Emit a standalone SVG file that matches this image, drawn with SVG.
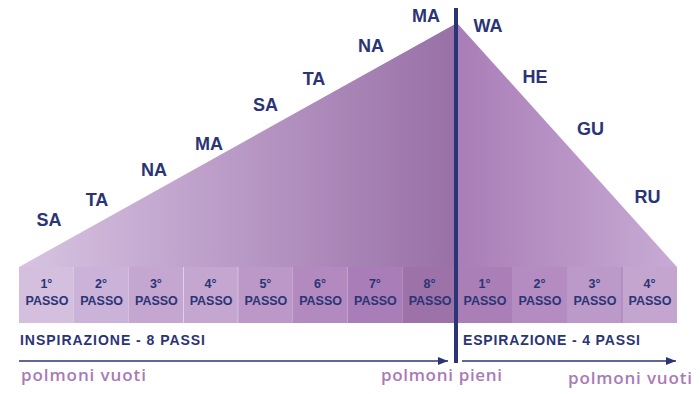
<svg xmlns="http://www.w3.org/2000/svg" width="700" height="394" viewBox="0 0 700 394">
<defs>
<linearGradient id="gL" x1="19" y1="0" x2="457" y2="0" gradientUnits="userSpaceOnUse">
<stop offset="0" stop-color="#d7c4e1"/><stop offset="0.5" stop-color="#b999c6"/><stop offset="1" stop-color="#9870a6"/>
</linearGradient>
<linearGradient id="gR" x1="457" y1="0" x2="677" y2="0" gradientUnits="userSpaceOnUse">
<stop offset="0" stop-color="#a97db7"/><stop offset="1" stop-color="#c8abd4"/>
</linearGradient>
<marker id="arr" viewBox="0 0 10 8" refX="10" refY="4" markerWidth="10" markerHeight="8" markerUnits="userSpaceOnUse" orient="auto">
<path d="M0,0 L10,4 L0,8 z" fill="#2b3474"/>
</marker>
<style>
.syl{font-family:"Liberation Sans",Arial,sans-serif;font-weight:700;font-size:18px;fill:#2b3474;text-anchor:middle}
.cell{font-family:"Liberation Sans",Arial,sans-serif;font-weight:700;font-size:12.5px;fill:#2b3474;text-anchor:middle}
.cap{font-family:"Liberation Sans",Arial,sans-serif;font-weight:700;font-size:14px;fill:#2b3474}
.pol{font-family:"Open Sans","Noto Sans",sans-serif;font-weight:600;font-size:17px;fill:#a97bb6}
.sep{stroke:#ffffff;stroke-opacity:0.35;stroke-width:1}
.conn{stroke:#2b3474;stroke-width:1.5;fill:none}
</style>
</defs>
<rect width="700" height="394" fill="#ffffff"/>
<g id="triangles">
<polygon points="19,267 457,23 457,267" fill="url(#gL)"/>
<polygon points="457,23 677,267 457,267" fill="url(#gR)"/>
</g>
<g id="syllables">
<text class="syl" x="49" y="226">SA</text>
<text class="syl" x="97" y="206">TA</text>
<text class="syl" x="154" y="176">NA</text>
<text class="syl" x="209" y="150">MA</text>
<text class="syl" x="265.5" y="111">SA</text>
<text class="syl" x="314" y="85">TA</text>
<text class="syl" x="371" y="52">NA</text>
<text class="syl" x="426" y="22">MA</text>
<text class="syl" x="488" y="32">WA</text>
<text class="syl" x="535" y="83">HE</text>
<text class="syl" x="590.5" y="135">GU</text>
<text class="syl" x="647.5" y="203">RU</text>
</g>
<g id="bar">
<rect x="19" y="267" width="54.75" height="56" fill="#d4bfdf"/>
<rect x="73.75" y="267" width="54.75" height="56" fill="#cbb2d8"/>
<rect x="128.5" y="267" width="54.75" height="56" fill="#c4a6d0"/>
<rect x="183.25" y="267" width="54.75" height="56" fill="#c5a6d0"/>
<rect x="238" y="267" width="54.75" height="56" fill="#bc98c8"/>
<rect x="292.75" y="267" width="54.75" height="56" fill="#b28ac0"/>
<rect x="347.5" y="267" width="54.75" height="56" fill="#a97db7"/>
<rect x="402.25" y="267" width="54.75" height="56" fill="#9c72a9"/>
<rect x="457" y="267" width="55" height="56" fill="#aa7fb7"/>
<rect x="512" y="267" width="55" height="56" fill="#b48cc1"/>
<rect x="567" y="267" width="55" height="56" fill="#bb99c9"/>
<rect x="622" y="267" width="55" height="56" fill="#c4a5d0"/>
<line class="sep" x1="183.5" y1="267" x2="183.5" y2="323"/>
<line class="sep" x1="238" y1="267" x2="238" y2="323"/>
<line x1="622" y1="267" x2="622" y2="323" stroke="#a77fb5" stroke-width="1"/>
</g>
<g id="steps">
<text class="cell" x="46.4" y="288">1°</text><text class="cell" x="47" y="305">PASSO</text>
<text class="cell" x="101.1" y="288">2°</text><text class="cell" x="101.6" y="305">PASSO</text>
<text class="cell" x="155.9" y="288">3°</text><text class="cell" x="156.4" y="305">PASSO</text>
<text class="cell" x="210.6" y="288">4°</text><text class="cell" x="211.1" y="305">PASSO</text>
<text class="cell" x="265.4" y="288">5°</text><text class="cell" x="265.9" y="305">PASSO</text>
<text class="cell" x="320.1" y="288">6°</text><text class="cell" x="320.6" y="305">PASSO</text>
<text class="cell" x="374.9" y="288">7°</text><text class="cell" x="375.4" y="305">PASSO</text>
<text class="cell" x="429.6" y="288">8°</text><text class="cell" x="430.1" y="305">PASSO</text>
<text class="cell" x="484.5" y="288">1°</text><text class="cell" x="485" y="305">PASSO</text>
<text class="cell" x="539.5" y="288">2°</text><text class="cell" x="540" y="305">PASSO</text>
<text class="cell" x="594.5" y="288">3°</text><text class="cell" x="595" y="305">PASSO</text>
<text class="cell" x="649.5" y="288">4°</text><text class="cell" x="650" y="305">PASSO</text>
</g>
<g id="connectors">
<line x1="456" y1="8" x2="456" y2="363" stroke="#2b3474" stroke-width="4"/>
<line class="conn" x1="19" y1="361" x2="448" y2="361" marker-end="url(#arr)"/>
<line class="conn" x1="462" y1="361" x2="676" y2="361" marker-end="url(#arr)"/>
</g>
<g id="labels">
<text class="cap" x="20" y="345" textLength="185" lengthAdjust="spacing">INSPIRAZIONE - 8 PASSI</text>
<text class="cap" x="463" y="345" textLength="177" lengthAdjust="spacing">ESPIRAZIONE - 4 PASSI</text>
<text class="pol" x="21" y="381" textLength="125" lengthAdjust="spacing">polmoni vuoti</text>
<text class="pol" x="381" y="381" textLength="121" lengthAdjust="spacing">polmoni pieni</text>
<text class="pol" x="568" y="384" textLength="124" lengthAdjust="spacing">polmoni vuoti</text>
</g>
</svg>
